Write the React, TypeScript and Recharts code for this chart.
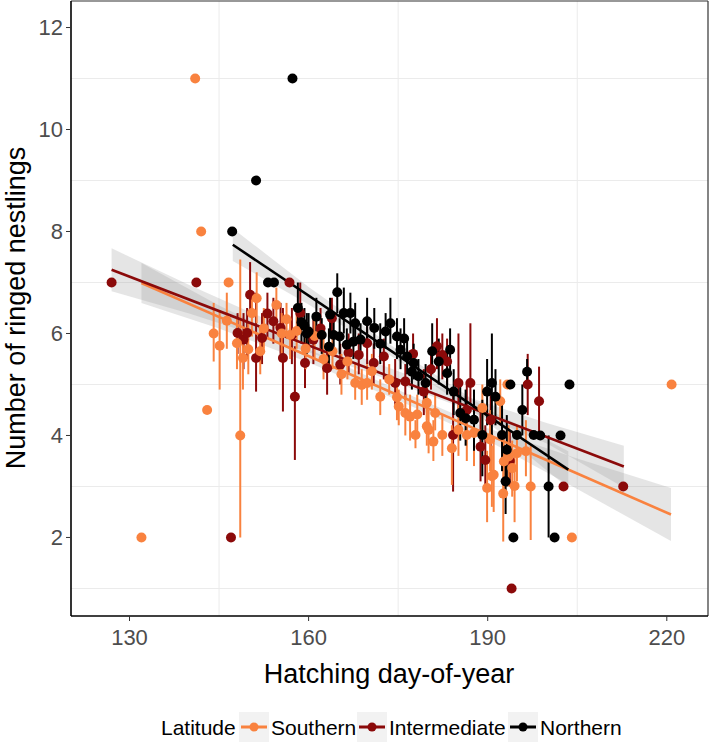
import React from "react";
import {
  ComposedChart,
  XAxis,
  YAxis,
  CartesianGrid,
  Scatter,
  ErrorBar,
  Area,
  Line,
  ReferenceLine,
} from "recharts";

// [hatching day, ringed nestlings, lower, upper]  (no interval when lower/upper missing)
type Obs = [number, number, number?, number?];

const southern: Obs[] = [
  [132, 2.0], [141, 11.0], [142, 8.0], [143, 4.5],
  [144.1, 6.0, 5.45, 6.6], [145.1, 5.76, 4.9, 6.46], [146.3, 6.25, 5.7, 6.8], [146.6, 7.0],
  [148.0, 5.81, 5.3, 6.3], [148.55, 4.0, 2.0, 7.45], [149.0, 5.52, 4.9, 6.05], [149.9, 5.69, 5.2, 6.2],
  [150.5, 6.4, 5.94, 6.8], [151.3, 6.69, 6.2, 7.2], [151.9, 5.65, 5.2, 6.1], [152.5, 6.1, 5.7, 6.5],
  [154.6, 6.56, 6.1, 6.9], [155.5, 6.0, 5.6, 6.4], [156.3, 6.28, 5.9, 6.6], [156.9, 5.97, 5.5, 6.3],
  [158.0, 6.05, 5.7, 6.4], [159.5, 5.7, 5.3, 6.1], [161.0, 5.95, 5.5, 6.3], [162.5, 5.5, 5.1, 5.9],
  [164.0, 5.65, 5.3, 6.0], [165.5, 5.2, 4.8, 5.6], [166.5, 5.45, 5.1, 5.8], [167.8, 5.03, 4.7, 5.4],
  [168.9, 4.99, 4.6, 5.3], [169.8, 5.03, 4.7, 5.4], [170.6, 5.26, 4.9, 5.6], [172.0, 4.76, 4.4, 5.1],
  [173.5, 5.1, 4.8, 5.4], [174.8, 4.75, 4.3, 5.1], [175.1, 4.57, 4.2, 4.9], [176.2, 4.44, 4.0, 4.8],
  [177.0, 4.37, 3.9, 4.8], [177.9, 4.01, 3.75, 4.3], [178.2, 4.41, 4.0, 4.8], [179.8, 4.18, 3.8, 4.6],
  [179.8, 4.64, 4.3, 5.0], [180.1, 4.11, 3.65, 4.5], [180.9, 3.88, 3.5, 4.3], [181.2, 4.44, 4.1, 4.8],
  [182.4, 4.01, 3.6, 4.4], [184.0, 3.75, 3.03, 4.2], [185.1, 4.11, 3.6, 4.6], [186.5, 4.01, 3.5, 4.5],
  [187.7, 4.05, 3.4, 4.6], [189.1, 4.54, 4.0, 5.0], [189.9, 2.97, 2.3, 3.7], [190.4, 3.92, 3.3, 4.5],
  [190.7, 3.2, 2.6, 3.8], [191.0, 3.23, 2.5, 3.9], [192.1, 4.67, 4.2, 5.1], [192.6, 2.86, 1.92, 3.5],
  [192.7, 3.49, 2.9, 4.1], [193.3, 5.0], [193.5, 3.59, 3.0, 4.2], [194.1, 3.36, 2.8, 3.9],
  [194.5, 3.01, 2.3, 3.6], [194.9, 3.65, 3.1, 4.2], [196.4, 3.69, 3.2, 4.3], [197.2, 3.0, 1.95, 3.8],
  [204.1, 2.0], [220.8, 5.0],
];

const intermediate: Obs[] = [
  [127, 7.0], [141.2, 7.0], [147, 2.0],
  [148.1, 6.01, 5.6, 6.4], [149.1, 5.88, 5.3, 6.4], [149.7, 6.01, 5.5, 6.5], [150.2, 6.76, 6.45, 7.4],
  [151.2, 5.52, 4.86, 6.8], [152.2, 5.91, 5.4, 6.4], [153.1, 6.39, 5.9, 6.8], [154.1, 6.24, 5.8, 6.7],
  [155.3, 6.11, 5.6, 6.6], [155.7, 5.52, 4.47, 6.5], [156.8, 7.0], [157.2, 5.97, 5.4, 6.5],
  [157.7, 4.76, 3.52, 5.75], [158.6, 6.4, 6.0, 7.0], [159.4, 5.42, 4.93, 6.2], [160.8, 5.88, 5.4, 6.3],
  [162.0, 6.1, 5.7, 6.5], [163.1, 5.32, 4.8, 5.8], [163.9, 6.3, 5.9, 6.7], [165.3, 5.39, 5.0, 5.8],
  [166.7, 5.62, 5.2, 6.0], [168.4, 5.58, 5.2, 6.0], [169.8, 5.81, 5.4, 6.2], [170.9, 5.42, 5.0, 5.8],
  [172.6, 5.55, 5.1, 5.9], [174.5, 5.03, 4.6, 5.5], [176.2, 5.06, 4.7, 5.4], [177.5, 5.6, 5.2, 6.0],
  [179.3, 4.86, 4.4, 5.3], [180.5, 5.3, 4.9, 5.7], [181.5, 5.75, 5.3, 6.3], [182.4, 5.58, 5.1, 6.0],
  [183.2, 5.45, 5.0, 5.9], [184.2, 4.01, 2.9, 4.8], [185.1, 5.03, 4.5, 6.0], [186.5, 4.5, 4.0, 5.0],
  [187.1, 5.03, 4.6, 6.2], [188.8, 3.78, 3.1, 4.5], [189.6, 3.52, 2.9, 4.2], [190.5, 4.3, 3.7, 4.9],
  [193.7, 3.5, 3.0, 4.1], [194, 1.0], [196.7, 5.0, 4.4, 5.6], [198.6, 4.67, 4.05, 5.35],
  [202.7, 3.0], [212.7, 3.0],
];

const northern: Obs[] = [
  [147.2, 8.0], [151.2, 9.0], [157.3, 11.0], [153.2, 7.0], [154.2, 7.0],
  [158.2, 6.5, 6.1, 7.0], [158.8, 6.22, 5.8, 6.6], [159.3, 6.15, 5.8, 6.5], [159.7, 6.0, 5.6, 6.4],
  [160.0, 6.04, 5.7, 6.4], [161.3, 6.33, 6.0, 6.7], [162.2, 5.97, 5.6, 6.3], [163.4, 5.74, 5.4, 6.1],
  [163.6, 6.37, 6.0, 6.7], [164.2, 5.97, 5.6, 6.3], [164.8, 6.81, 6.4, 7.18], [165.2, 5.94, 5.6, 6.3],
  [165.9, 6.4, 6.0, 6.9], [166.4, 5.78, 5.5, 6.1], [167.0, 6.4, 6.0, 6.8], [167.5, 5.84, 5.5, 6.2],
  [167.8, 6.2, 5.9, 6.6], [168.7, 5.88, 5.5, 6.2], [169.8, 6.24, 5.8, 6.7], [171.0, 6.11, 5.7, 6.5],
  [172.0, 5.8, 5.4, 6.2], [172.9, 6.04, 5.7, 6.4], [173.7, 6.2, 5.8, 6.7], [174.8, 5.94, 5.5, 6.3],
  [175.4, 5.68, 5.3, 6.1], [176.0, 5.9, 5.5, 6.3], [176.5, 5.55, 5.2, 5.9], [177.3, 5.25, 4.9, 5.6],
  [177.6, 5.42, 5.1, 5.8], [178.4, 5.16, 4.8, 5.5], [179.6, 5.03, 4.7, 5.4], [180.7, 5.65, 5.2, 6.2],
  [181.8, 5.45, 5.0, 5.9], [183.2, 5.22, 4.8, 5.7], [183.7, 5.68, 5.2, 6.1], [184.3, 4.86, 4.4, 5.3],
  [185.4, 4.44, 3.9, 5.0], [186.3, 4.34, 3.8, 4.9], [187.7, 4.31, 3.7, 4.9], [189.1, 4.01, 3.2, 4.7],
  [189.9, 4.86, 4.2, 5.5], [190.7, 5.03, 4.0, 6.0], [191.3, 4.76, 4.2, 5.3], [192.4, 4.01, 3.3, 4.7],
  [193.2, 3.72, 3.0, 4.4], [193.0, 3.1, 2.46, 3.73], [193.8, 5.0], [194.3, 2.0], [194.9, 4.01],
  [195.8, 4.5, 4.0, 5.0], [196.6, 5.25, 5.0, 5.5], [197.7, 4.01], [198.8, 4.0],
  [200.2, 3.0, 2.0, 4.0], [201.2, 2.0], [202.2, 4.0], [203.7, 5.0],
];

// fitted lines: [day, fitted count]
const southernFit = [[132, 6.99], [220.7, 2.45]];
const intermediateFit = [[127, 7.25], [212.8, 3.39]];
const northernFit = [[147.3, 7.74], [203.5, 3.33]];

// confidence ribbons: [day, lower, upper]
const southernBand = [
  [132, 6.6, 7.38], [145, 6.1, 6.55], [160, 5.43, 5.69], [175, 4.69, 4.89],
  [190, 3.9, 4.14], [205, 2.95, 3.55], [220.7, 1.93, 2.97],
];
const intermediateBand = [
  [127, 6.83, 7.67], [140, 6.39, 6.95], [155, 5.83, 6.17], [170, 5.24, 5.48],
  [185, 4.58, 4.82], [200, 3.84, 4.24], [212.8, 2.98, 3.8],
];
const northernBand = [
  [147.3, 7.42, 8.06], [160, 6.57, 6.91], [175, 5.47, 5.67], [190, 4.26, 4.52], [203.5, 2.97, 3.69],
];

const xTicks = [130, 160, 190, 220];
const yTicks = [2, 4, 6, 8, 10, 12];
const xMinor = [145, 175, 205];
const yMinor = [1, 3, 5, 7, 9, 11];

const groups = [
  { name: "Southern", color: "#F9823F", obs: southern, fit: southernFit, band: southernBand },
  { name: "Intermediate", color: "#8B0A0A", obs: intermediate, fit: intermediateFit, band: intermediateBand },
  { name: "Northern", color: "#000000", obs: northern, fit: northernFit, band: northernBand },
];

const X_DOMAIN = [120.2, 226.9];
const Y_DOMAIN = [0.46, 12.52];
const FONT = "'Liberation Sans', Arial, Helvetica, sans-serif";

const toPoints = (rows: Obs[]) =>
  rows.map(([x, y, lo, hi]) => ({
    x,
    y,
    err: [lo == null ? 0 : y - lo, hi == null ? 0 : hi - y],
  }));

const dot = (color: string) => (p: any) => <circle cx={p.cx} cy={p.cy} r={5} fill={color} />;

// draw order of the point layer
const pointOrder = [1, 0, 2];

export default function App() {
  const legendItems = [
    { label: "Southern", color: groups[0].color, box: 239, text: 271 },
    { label: "Intermediate", color: groups[1].color, box: 357, text: 389 },
    { label: "Northern", color: groups[2].color, box: 508, text: 540 },
  ];

  return (
    <div style={{ position: "absolute", left: 0, top: 0, width: 709, height: 742, background: "#fff" }}>
      <ComposedChart width={709} height={742} margin={{ top: 1, right: 1, bottom: 0, left: 0 }}>
        <CartesianGrid
          stroke="#EBEBEB"
          strokeWidth={1}
          horizontalValues={yMinor}
          verticalValues={xMinor}
        />
        <XAxis
          type="number"
          dataKey="x"
          domain={X_DOMAIN}
          ticks={xTicks}
          allowDataOverflow
          height={126}
          tickSize={5}
          tickMargin={8}
          axisLine={{ stroke: "#000", strokeWidth: 1.6 }}
          tickLine={{ stroke: "#333" }}
          tick={{ fill: "#4D4D4D", fontSize: 22, fontFamily: FONT }}
        />
        <YAxis
          type="number"
          dataKey="y"
          domain={Y_DOMAIN}
          ticks={yTicks}
          allowDataOverflow
          width={71}
          tickSize={5}
          tickMargin={3}
          axisLine={{ stroke: "#000", strokeWidth: 1.6 }}
          tickLine={{ stroke: "#333" }}
          tick={{ fill: "#4D4D4D", fontSize: 22, fontFamily: FONT }}
        />
        <ReferenceLine y={Y_DOMAIN[1]} stroke="#333" strokeWidth={1.2} ifOverflow="visible" />
        <ReferenceLine x={X_DOMAIN[1]} stroke="#333" strokeWidth={1.2} ifOverflow="visible" />

        {pointOrder.map((i) => {
          const g = groups[i];
          return (
            <Scatter
              key={`pts-${g.name}`}
              name={g.name}
              data={toPoints(g.obs)}
              dataKey="y"
              fill={g.color}
              shape={dot(g.color)}
              isAnimationActive={false}
            >
              <ErrorBar dataKey="err" direction="y" width={0} stroke={g.color} strokeWidth={2} />
            </Scatter>
          );
        })}

        {groups.map((g) => (
          <Area
            key={`band-${g.name}`}
            data={g.band.map(([x, lo, hi]) => ({ x, range: [lo, hi] }))}
            dataKey="range"
            type="linear"
            stroke="none"
            fill="#999999"
            fillOpacity={0.25}
            isAnimationActive={false}
          />
        ))}
        {groups.map((g) => (
          <Line
            key={`fit-${g.name}`}
            data={g.fit.map(([x, y]) => ({ x, y }))}
            dataKey="y"
            type="linear"
            stroke={g.color}
            strokeWidth={2.6}
            dot={false}
            isAnimationActive={false}
          />
        ))}

        <text x={389} y={683} textAnchor="middle" fontSize={27} fontFamily={FONT} fill="#000">
          Hatching day-of-year
        </text>
        <text
          transform="translate(25, 308) rotate(-90)"
          textAnchor="middle"
          fontSize={27}
          fontFamily={FONT}
          fill="#000"
        >
          Number of ringed nestlings
        </text>

        <text x={161} y={735} fontSize={21} fontFamily={FONT} fill="#000">
          Latitude
        </text>
        {legendItems.map((it) => (
          <g key={it.label}>
            <rect x={it.box} y={712} width={30} height={30} fill="#F2F2F2" />
            <line x1={it.box + 2} x2={it.box + 28} y1={727} y2={727} stroke={it.color} strokeWidth={3} />
            <circle cx={it.box + 15} cy={727} r={4.5} fill={it.color} />
            <text x={it.text} y={735} fontSize={21} fontFamily={FONT} fill="#000">
              {it.label}
            </text>
          </g>
        ))}
      </ComposedChart>
    </div>
  );
}
